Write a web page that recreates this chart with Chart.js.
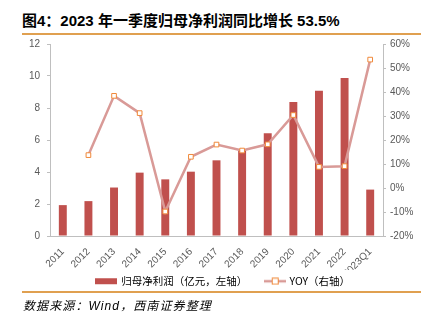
<!DOCTYPE html>
<html>
<head>
<meta charset="utf-8">
<script src="https://cdn.jsdelivr.net/npm/chart.js@4.4.1/dist/chart.umd.min.js"></script>
<style>
  html, body { margin: 0; padding: 0; background: #fff; }
  body { width: 429px; height: 321px; position: relative; overflow: hidden;
         font-family: "Liberation Sans", Arial, "Noto Sans CJK SC", sans-serif; }
  #title { position: absolute; left: 22px; top: 12px; font-size: 15px; font-weight: bold;
           color: #000; white-space: nowrap; line-height: 18px; }
  .rule { position: absolute; left: 22px; width: 399px; height: 1.5px; background: #E0A050; }
  #source { position: absolute; left: 23px; top: 298px; font-size: 12px; font-style: italic;
            color: #000; white-space: nowrap; line-height: 16px; letter-spacing: 1.1px; }
  #wrap { position: absolute; left: 0; top: 31px; width: 429px; height: 269px; }
</style>
</head>
<body>
<div id="title">图4：2023 年一季度归母净利润同比增长 53.5%</div>
<div id="wrap"><canvas id="chart"></canvas></div>
<div class="rule" style="top:33px"></div>
<div class="rule" style="top:291px"></div>
<div id="source">数据来源：Wind，西南证券整理</div>
<script>
// Periods on the category axis
const categories = ['2011', '2012', '2013', '2014', '2015', '2016', '2017', '2018',
                    '2019', '2020', '2021', '2022', '2023Q1'];
// Net profit attributable to parent (100 million yuan, left axis)
const netProfit = [1.93, 2.18, 3.03, 3.96, 3.54, 4.02, 4.73, 5.35, 6.42, 8.37, 9.08, 9.87, 2.90];
// Year-over-year growth (%, right axis)
const yoyGrowth = [null, 13.7, 38.4, 31.2, -9.8, 13.0, 18.1, 15.6, 18.2, 30.4, 8.8, 9.1, 53.5];
// Axis ticks
const leftTicks = [0, 2, 4, 6, 8, 10, 12];
const rightTicks = [-20, -10, 0, 10, 20, 30, 40, 50, 60];

const seriesNames = ['归母净利润（亿元，左轴）', 'YOY（右轴）'];

const BAR_COLOR = '#C0504D';
const LINE_COLOR = '#D99A97';
const MARKER_EDGE = '#F0893A';
const AXIS_COLOR = '#BFBFBF';
const TICK_TEXT = '#595959';

Chart.defaults.font.family = '"Liberation Sans", Arial, "Noto Sans CJK SC", sans-serif';

// Small legend icons: a solid swatch for the bars, a line with a square marker for YOY
function makeIcon(kind) {
  const c = document.createElement('canvas');
  c.width = 22; c.height = 8;
  const g = c.getContext('2d');
  if (kind === 'bar') {
    g.fillStyle = BAR_COLOR;
    g.fillRect(0, 1, 22, 6);
  } else {
    g.strokeStyle = LINE_COLOR;
    g.lineWidth = 2.5;
    g.beginPath(); g.moveTo(0, 4); g.lineTo(22, 4); g.stroke();
    g.fillStyle = '#fff';
    g.fillRect(8, 0.5, 7, 7);
    g.strokeStyle = MARKER_EDGE;
    g.lineWidth = 1;
    g.strokeRect(8.5, 1, 6, 6);
  }
  return c;
}
const icons = [makeIcon('bar'), makeIcon('line')];

// Moves the legend box a little after layout so it sits under the plot,
// keeping its box tall enough that the labels are not clipped
const legendOffset = {
  id: 'legendOffset',
  afterLayout(chart) {
    const lg = chart.legend;
    if (!lg) return;
    const dx = 9, dy = -12;
    lg.left += dx; lg.right += dx;
    lg.top += dy; lg.bottom = lg.top + 44;
  }
};

function fixedWidth(w) { return scale => { scale.width = w; }; }

new Chart(document.getElementById('chart'), {
  data: {
    labels: categories,
    datasets: [
      {
        type: 'bar',
        label: seriesNames[0],
        data: netProfit,
        yAxisID: 'yLeft',
        backgroundColor: BAR_COLOR,
        borderWidth: 0,
        barPercentage: 0.31,
        categoryPercentage: 1.0,
        order: 2
      },
      {
        type: 'line',
        label: seriesNames[1],
        data: yoyGrowth,
        yAxisID: 'yRight',
        borderColor: LINE_COLOR,
        borderWidth: 2.5,
        pointStyle: 'rect',
        pointRadius: 3.3,
        pointBackgroundColor: '#FFFFFF',
        pointBorderColor: MARKER_EDGE,
        pointBorderWidth: 1,
        tension: 0,
        spanGaps: false,
        order: 1
      }
    ]
  },
  plugins: [legendOffset],
  options: {
    responsive: true,
    maintainAspectRatio: false,
    animation: false,
    layout: { padding: { top: 1, left: 0, right: 0, bottom: 4 } },
    plugins: {
      tooltip: { enabled: false },
      legend: {
        position: 'bottom',
        maxHeight: 26,
        labels: {
          usePointStyle: true,
          pointStyleWidth: 19,
          boxHeight: 8,
          padding: 18,
          color: '#303030',
          font: { size: 10.5, family: '"Noto Sans CJK SC", "Liberation Sans", sans-serif' },
          generateLabels: chart => chart.data.datasets.map((ds, i) => ({
            text: ds.label,
            pointStyle: icons[i],
            fillStyle: 'transparent',
            strokeStyle: 'transparent',
            lineWidth: 0,
            hidden: false,
            datasetIndex: i
          }))
        }
      }
    },
    scales: {
      x: {
        grid: { display: false },
        border: { display: true, color: AXIS_COLOR, width: 1 },
        ticks: {
          autoSkip: false, maxRotation: 45, minRotation: 45,
          color: TICK_TEXT, font: { size: 10 }, padding: 2
        },
        afterFit: scale => { scale.height = 34; }
      },
      yLeft: {
        type: 'linear',
        position: 'left',
        min: 0, max: 12,
        afterBuildTicks: scale => { scale.ticks = leftTicks.map(v => ({ value: v })); },
        grid: { drawOnChartArea: false, drawTicks: true, tickLength: 3, color: AXIS_COLOR },
        border: { display: true, color: AXIS_COLOR, width: 1 },
        ticks: { color: TICK_TEXT, font: { size: 10 }, padding: 7 },
        afterFit: fixedWidth(50)
      },
      yRight: {
        type: 'linear',
        position: 'right',
        min: -20, max: 60,
        afterBuildTicks: scale => { scale.ticks = rightTicks.map(v => ({ value: v })); },
        grid: { drawOnChartArea: false, drawTicks: true, tickLength: 3, color: AXIS_COLOR },
        border: { display: true, color: AXIS_COLOR, width: 1 },
        ticks: { color: TICK_TEXT, font: { size: 10 }, padding: 4, callback: v => v + '%' },
        afterFit: fixedWidth(46)
      }
    }
  }
});
</script>
</body>
</html>
